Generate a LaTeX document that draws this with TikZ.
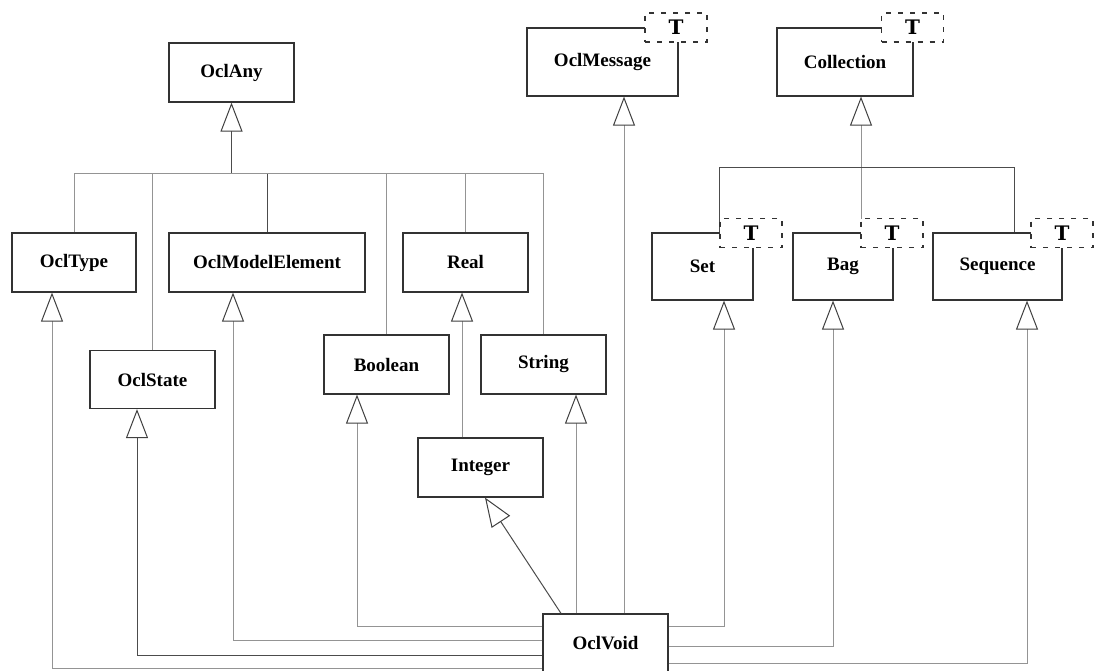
\documentclass[tikz,border=0pt]{standalone}
\usepackage{fontspec}
\setmainfont{Liberation Serif}
\newfontfamily\tmplfont{DejaVu Serif}
\usetikzlibrary{arrows.meta}
\begin{document}
\begin{tikzpicture}[x=1pt,y=-1pt,
  cls/.style={draw=black!80, line width=1.2pt, fill=white, minimum height=59pt, inner sep=0pt,
    font=\fontsize{19}{22}\selectfont\bfseries},
  tmpl/.style={draw=black!80, line width=1.2pt, dash pattern=on 5pt off 7pt, fill=white,
    minimum width=62pt, minimum height=29pt, inner sep=0pt,
    font=\tmplfont\fontsize{20}{22}\selectfont\bfseries},
  gl/.style={draw=black!42, line width=1pt},
  dl/.style={draw=black!70, line width=1pt},
  gen/.style={-{Triangle[length=29pt,width=22pt,fill=white,color=black!75]}}]
\useasboundingbox (0,0) rectangle (1094,671);
\fill[white] (0,0) rectangle (1094,671);

% classes
\node[cls, minimum width=125pt] (OclAny) at (231.5,72.5) {OclAny};
\node[cls, minimum width=124pt] (OclType) at (74,262.5) {OclType};
\node[cls, minimum width=196pt] (OclModelElement) at (267,262.5) {OclModelElement};
\node[cls, minimum width=125pt] (Real) at (465.5,262.5) {Real};
\node[cls, minimum width=125pt, minimum height=58pt] (OclState) at (152.5,379.5) {OclState};
\node[cls, minimum width=125pt] (Boolean) at (386.5,364.5) {Boolean};
\node[cls, minimum width=125pt] (String) at (543.5,364.5) {String};
\node[cls, minimum width=125pt] (Integer) at (480.5,467.5) {Integer};
\node[cls, minimum width=125pt] (OclVoid) at (605.5,643.5) {OclVoid};
\node[cls, minimum width=151pt, minimum height=68pt] (OclMessage) at (602.5,62) {OclMessage};
\node[cls, minimum width=136pt, minimum height=68pt] (Collection) at (845,62) {Collection};
\node[cls, minimum width=101pt, minimum height=67pt] (Set) at (702.5,266.5) {Set};
\node[cls, minimum width=100pt, minimum height=67pt] (Bag) at (843,266.5) {Bag};
\node[cls, minimum width=129pt, minimum height=67pt] (Sequence) at (997.5,266.5) {Sequence};

% OclAny hierarchy
\draw[dl,gen] (OclAny.south |- 0,174) -- (OclAny.south);
\draw[gl] (OclType.north) -- (OclType.north |- 0,174) -| (String.north);
\draw[gl] (OclState.north |- 0,174) -- (OclState.north);
\draw[dl] (OclModelElement.north |- 0,174) -- (OclModelElement.north);
\draw[gl] (Boolean.north |- 0,174) -- (Boolean.north);
\draw[gl] (Real.north |- 0,174) -- (Real.north);
\draw[gl,gen] (Integer.north -| 462,0) -- (Real.south -| 462,0);

% Collection hierarchy
\draw[gl,gen] (Bag.north -| 861,0) -- (Collection.south -| 861,0);
\draw[dl] (Set.north -| 719,0) -- (719,168) -| (Sequence.north -| 1014,0);

% OclVoid generalizations
\draw[gl,gen] (OclVoid.west |- 0,668) -| (OclType.south -| 52,0);
\draw[dl,gen] (OclVoid.west |- 0,655) -| (OclState.south -| 137,0);
\draw[gl,gen] (OclVoid.west |- 0,640) -| (OclModelElement.south -| 233,0);
\draw[gl,gen] (OclVoid.west |- 0,626) -| (Boolean.south -| 357,0);
\draw[dl,gen] (OclVoid.north -| 561,0) -- (Integer.south -| 485,0);
\draw[gl,gen] (OclVoid.north -| 576,0) -- (String.south -| 576,0);
\draw[gl,gen] (OclVoid.north -| 624,0) -- (OclMessage.south -| 624,0);
\draw[gl,gen] (OclVoid.east |- 0,626) -| (Set.south -| 724,0);
\draw[gl,gen] (OclVoid.east |- 0,646) -| (Bag.south -| 833,0);
\draw[gl,gen] (OclVoid.east |- 0,663) -| (Sequence.south -| 1027,0);

% template parameters
\node[tmpl] (tMsg) at (676,27.5) {T};
\node[tmpl] (tCol) at (912.5,27.5) {T};
\node[tmpl] (tSet) at (751,233) {T};
\node[tmpl] (tBag) at (892,233) {T};
\node[tmpl] (tSeq) at (1062,233) {T};
\end{tikzpicture}
\end{document}
